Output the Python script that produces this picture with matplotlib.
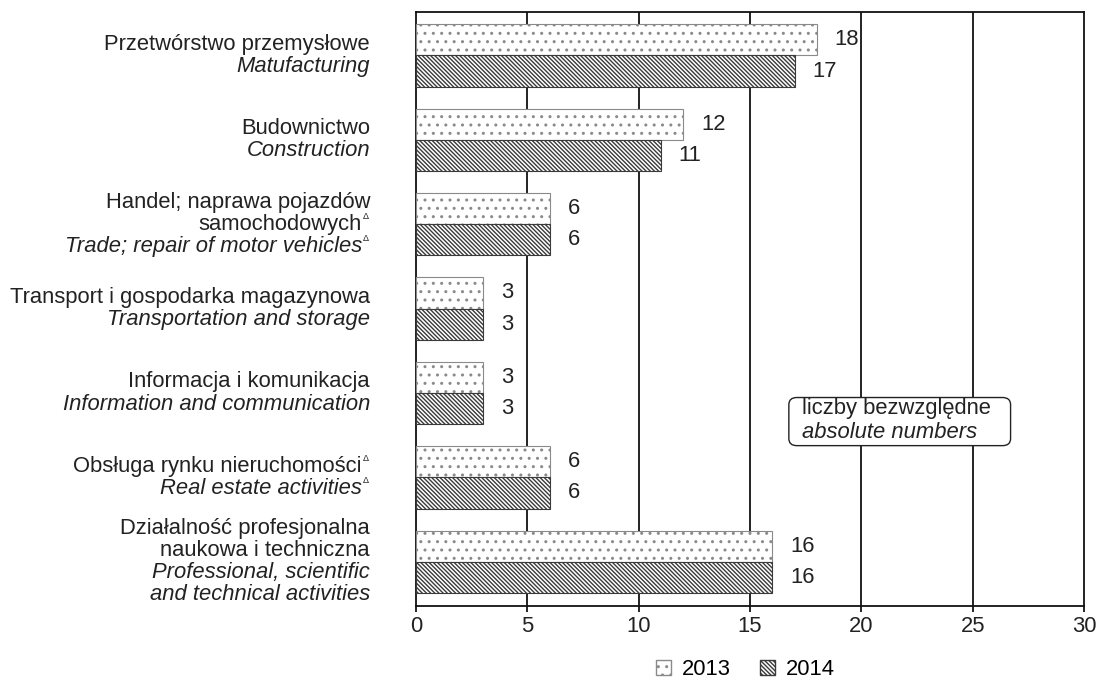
import numpy as np
import matplotlib
matplotlib.use("Agg")
import matplotlib.pyplot as plt
from matplotlib.patches import FancyBboxPatch, Patch

plt.rcParams['font.family'] = ['Liberation Sans', 'DejaVu Sans']
plt.rcParams['hatch.linewidth'] = 1.0

# category labels: (text, italic, has delta mark) per line
labels = [
    [("Przetwórstwo przemysłowe", False, False), ("Matufacturing", True, False)],
    [("Budownictwo", False, False), ("Construction", True, False)],
    [("Handel; naprawa pojazdów", False, False), ("samochodowych", False, True),
     ("Trade; repair of motor vehicles", True, True)],
    [("Transport i gospodarka magazynowa", False, False), ("Transportation and storage", True, False)],
    [("Informacja i komunikacja", False, False), ("Information and communication", True, False)],
    [("Obsługa rynku nieruchomości", False, True), ("Real estate activities", True, True)],
    [("Działalność profesjonalna", False, False), ("naukowa i techniczna", False, False),
     ("Professional, scientific", True, False), ("and technical activities", True, False)],
]
vals_2013 = [18, 12, 6, 3, 3, 6, 16]
vals_2014 = [17, 11, 6, 3, 3, 6, 16]
years = ["2013", "2014"]

FS = 15.8
c13 = '#8a8a8a'
c14 = '#3a3a3a'
h13 = '..'
h14 = '\\\\\\\\\\\\\\\\'

fig = plt.figure(figsize=(11.01, 6.82), dpi=100)
ax = fig.add_axes([0.378, 0.1114, 0.6066, 0.871])

y = np.arange(len(vals_2013))
h = 0.37
ax.barh(y - h / 2, vals_2013, height=h, color='white', edgecolor=c13,
        hatch=h13, linewidth=0.8, zorder=3)
ax.barh(y + h / 2, vals_2014, height=h, color='white', edgecolor=c14,
        hatch=h14, linewidth=0.8, zorder=3)

for yi, v in zip(y - h / 2, vals_2013):
    ax.text(v + 0.8, yi, str(v), va='center', ha='left', fontsize=FS, color='#222222')
for yi, v in zip(y + h / 2, vals_2014):
    ax.text(v + 0.8, yi, str(v), va='center', ha='left', fontsize=FS, color='#222222')

ax.set_xlim(0, 30)
ax.set_ylim(6.525, -0.515)
ax.set_xticks(range(0, 31, 5))
ax.tick_params(axis='x', direction='out', length=4.5, width=1.2, labelsize=FS, pad=2.5,
               labelcolor='#222222')
ax.set_yticks([])
for x in range(5, 30, 5):
    ax.axvline(x, color='#111111', lw=1.3, zorder=1)
for s in ax.spines.values():
    s.set_linewidth(1.3)
    s.set_color('#111111')

# category labels, right aligned to the left of the axes
line_gap = 0.262
xoff = -2.07
for i, lines in enumerate(labels):
    n = len(lines)
    for j, (txt, it, delta) in enumerate(lines):
        yy = i + (j - (n - 1) / 2) * line_gap
        shift = -6 if delta else 0
        ax.annotate(txt, xy=(xoff, yy), xytext=(shift, 0), textcoords='offset points',
                    ha='right', va='center', fontsize=FS,
                    style='italic' if it else 'normal', color='#222222',
                    annotation_clip=False)
        if delta:
            ax.annotate("\u0394", xy=(xoff, yy), xytext=(shift + 0.6, 2.5),
                        textcoords='offset points', ha='left', va='bottom',
                        fontsize=6.5, color='#222222', annotation_clip=False)

# annotation box
box = FancyBboxPatch((0.558, 0.27), 0.332, 0.081, boxstyle="round,pad=0,rounding_size=0.012",
                     transform=ax.transAxes, facecolor='white', edgecolor='#222222',
                     lw=1.0, zorder=4)
ax.add_patch(box)
ax.text(0.577, 0.333, "liczby bezwzględne", transform=ax.transAxes, ha='left', va='center',
        fontsize=FS, color='#222222', zorder=5)
ax.text(0.577, 0.292, "absolute numbers", transform=ax.transAxes, ha='left', va='center',
        fontsize=FS, style='italic', color='#222222', zorder=5)

handles = [Patch(facecolor='white', edgecolor=c13, hatch=h13, label=years[0]),
           Patch(facecolor='white', edgecolor=c14, hatch=h14, label=years[1])]
fig.legend(handles=handles, loc='center', bbox_to_anchor=(0.677, 0.018), ncol=2,
           frameon=False, fontsize=FS, handlelength=0.7, handleheight=0.7,
           handletextpad=0.5, columnspacing=1.3, borderpad=0)

fig.savefig("out.png", dpi=100)
